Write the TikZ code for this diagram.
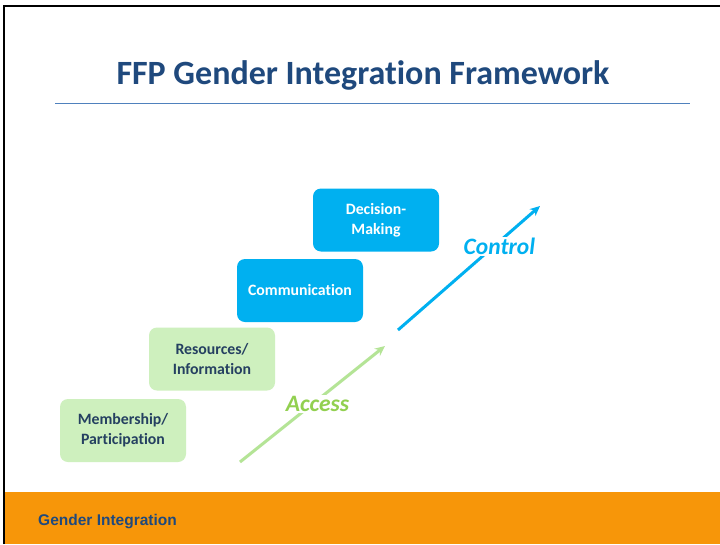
\documentclass[tikz,border=0pt]{standalone}
\usepackage{fontspec}
\setmainfont{Carlito}[Ligatures=NoCommon]
\newfontfamily\footfont{Liberation Sans}
\usepackage{xcolor}
\definecolor{titleblue}{RGB}{31,73,125}
\definecolor{ruleblue}{RGB}{79,129,189}
\definecolor{stepgreen}{RGB}{206,240,190}
\definecolor{stepcyan}{RGB}{0,176,240}
\definecolor{textnavy}{RGB}{37,64,97}
\definecolor{accessline}{RGB}{180,228,150}
\definecolor{accesstext}{RGB}{146,208,80}
\definecolor{footorange}{RGB}{247,150,9}
\usepackage{tikz}
\usetikzlibrary{arrows.meta}
\newcommand{\widthstep}{126pt}
\newcommand{\heightstep}{63pt}
\tikzset{
    common/.style={rectangle, rounded corners=8pt, align=center, minimum width=\widthstep, minimum height=\heightstep, font=\fontsize{15.8}{20}\selectfont\bfseries},
    greenstep/.style={common, fill=stepgreen, text=textnavy},
    bluestep/.style={common, fill=stepcyan, text=white},
    trend/.style={line width=3pt, -{Stealth[length=10pt,width=9pt]}},
    trendlabel/.style={fill=white, inner sep=1pt, font=\fontsize{23.5}{28}\selectfont\bfseries\itshape}
}

\begin{document}
\begin{tikzpicture}[x=1pt, y=-1pt]
    \useasboundingbox (0,0) rectangle (720,544);
    \fill[white] (0,0) rectangle (720,544);

    % footer band and frame
    \fill[footorange] (4,492) rectangle (720,544);
    \draw[line width=2pt] (4,544) -- (4,6) -- (720,6);
    \node[anchor=base west, inner sep=0pt, text=titleblue, font=\footfont\fontsize{15.5}{18}\selectfont\bfseries] (foot) at (38,525) {Gender Integration};

    % title
    \node[text=titleblue, font=\fontsize{34}{40}\selectfont\bfseries] (title) at (363,75) {FFP Gender Integration Framework};
    \draw[ruleblue, line width=1pt] (55,103) -- (690,103);

    % steps
    \path (123,430.5) node[greenstep] (memb) {Membership/\\Participation}
        ++(89,-71.5) node[greenstep] (res) {Resources/\\Information}
        ++(88,-68.5) node[bluestep] (comm) {Communication}
        ++(76,-70.5) node[bluestep] (dec) {Decision-\\Making};

    % arrows
    \coordinate (accstart) at (240,462);
    \coordinate (accend) at (385,346);
    \coordinate (ctlstart) at (398,330);
    \coordinate (ctlend) at (540,206);
    \draw[trend, accessline] (accstart) -- node[trendlabel, text=accesstext, xshift=5pt] (acc) {Access} (accend);
    \draw[trend, stepcyan] (ctlstart) -- node[trendlabel, text=stepcyan, pos=0.7, yshift=-3pt, xshift=2pt] (ctl) {Control} (ctlend);
\end{tikzpicture}
\end{document}
